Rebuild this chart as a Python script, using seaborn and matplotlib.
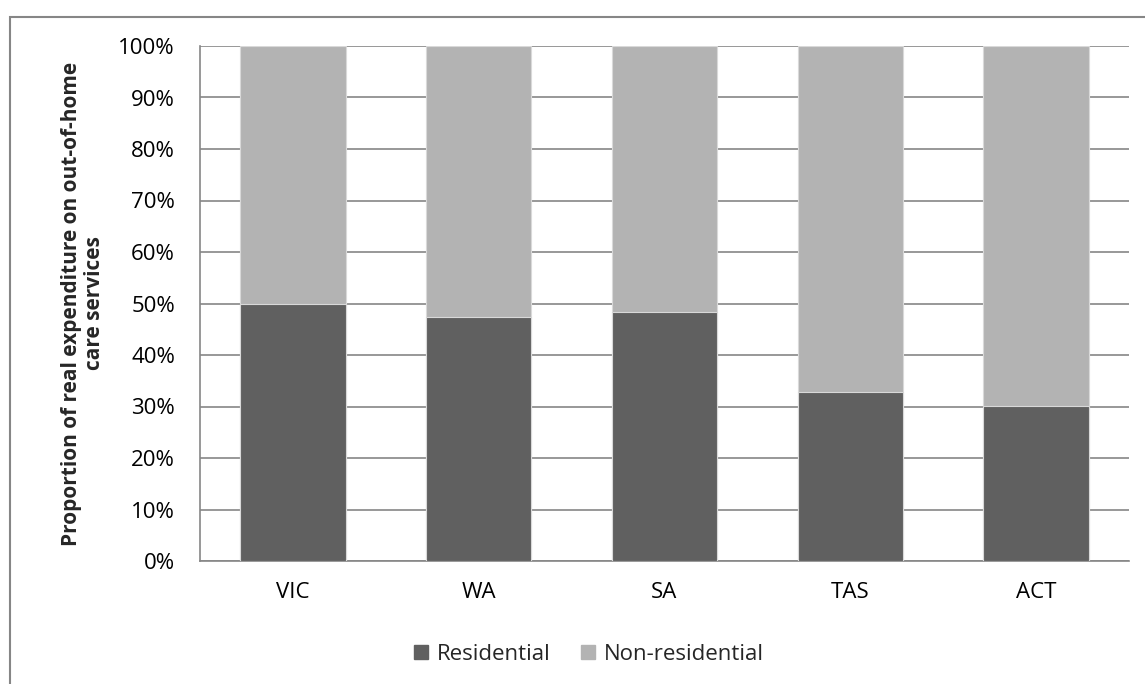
import matplotlib
matplotlib.use("Agg")
import matplotlib.pyplot as plt
from matplotlib.patches import Rectangle
import seaborn as sns
import pandas as pd

states = ["VIC", "WA", "SA", "TAS", "ACT"]
residential = [50.0, 47.4, 48.4, 32.9, 30.1]
non_residential = [50.0, 52.6, 51.6, 67.1, 69.9]
y_ticks = [0, 10, 20, 30, 40, 50, 60, 70, 80, 90, 100]
y_tick_labels = [f"{t}%" for t in y_ticks]

res_color = "#606060"
nonres_color = "#b3b3b3"
grid_color = "#868686"

sns.set_theme(style="white")
plt.rcParams["font.family"] = ["Open Sans", "DejaVu Sans"]

df = pd.DataFrame({
    "state": states,
    "Residential": residential,
    "Non-residential": non_residential,
})
df["total"] = df["Residential"] + df["Non-residential"]

fig = plt.figure(figsize=(11.45, 6.84), dpi=100)
ax = fig.add_axes([200 / 1145, 1 - 561 / 684, (1129 - 200) / 1145, (561 - 46) / 684])

# stacked bars: full height in the light colour, residential share drawn over it
sns.barplot(data=df, x="state", y="total", color=nonres_color, width=0.567,
            saturation=1, ax=ax, edgecolor="#d9d9d9", linewidth=0.8, zorder=3)
sns.barplot(data=df, x="state", y="Residential", color=res_color, width=0.567,
            saturation=1, ax=ax, edgecolor="#d9d9d9", linewidth=0.8, zorder=4)

ax.set_ylim(0, 100)
ax.set_xlim(-0.5, len(states) - 0.5)
ax.set_yticks(y_ticks)
ax.set_yticklabels(y_tick_labels)
ax.yaxis.grid(True, color=grid_color, linewidth=1.2, zorder=0)
ax.set_axisbelow(True)
ax.tick_params(axis="both", length=0, labelsize=16, colors="#000000")
ax.tick_params(axis="y", pad=18)
ax.tick_params(axis="x", pad=15)

for side in ["top", "right"]:
    ax.spines[side].set_visible(False)
for side in ["left", "bottom"]:
    ax.spines[side].set_color(grid_color)
    ax.spines[side].set_linewidth(1.2)

ax.set_xlabel("")
ax.set_ylabel("Proportion of real expenditure on out-of-home\ncare services",
              fontsize=15, fontweight="bold", linespacing=1.15)
ax.yaxis.set_label_coords(-0.102, 0.5)

handles = [Rectangle((0, 0), 1, 1, color=res_color),
           Rectangle((0, 0), 1, 1, color=nonres_color)]
fig.legend(handles, ["Residential", "Non-residential"], loc="center",
           bbox_to_anchor=(589 / 1145, 1 - 654 / 684), ncol=2, frameon=False,
           fontsize=16, handlelength=0.6, handleheight=0.6, handletextpad=0.4,
           columnspacing=1.4)

# chart-area border
fig.patches.append(Rectangle((9.5 / 1145, -0.2), 1.2, 1.2 - 16.5 / 684,
                             transform=fig.transFigure, fill=False,
                             edgecolor=grid_color, linewidth=1.5))

fig.savefig("out.png", dpi=100, facecolor="white")
